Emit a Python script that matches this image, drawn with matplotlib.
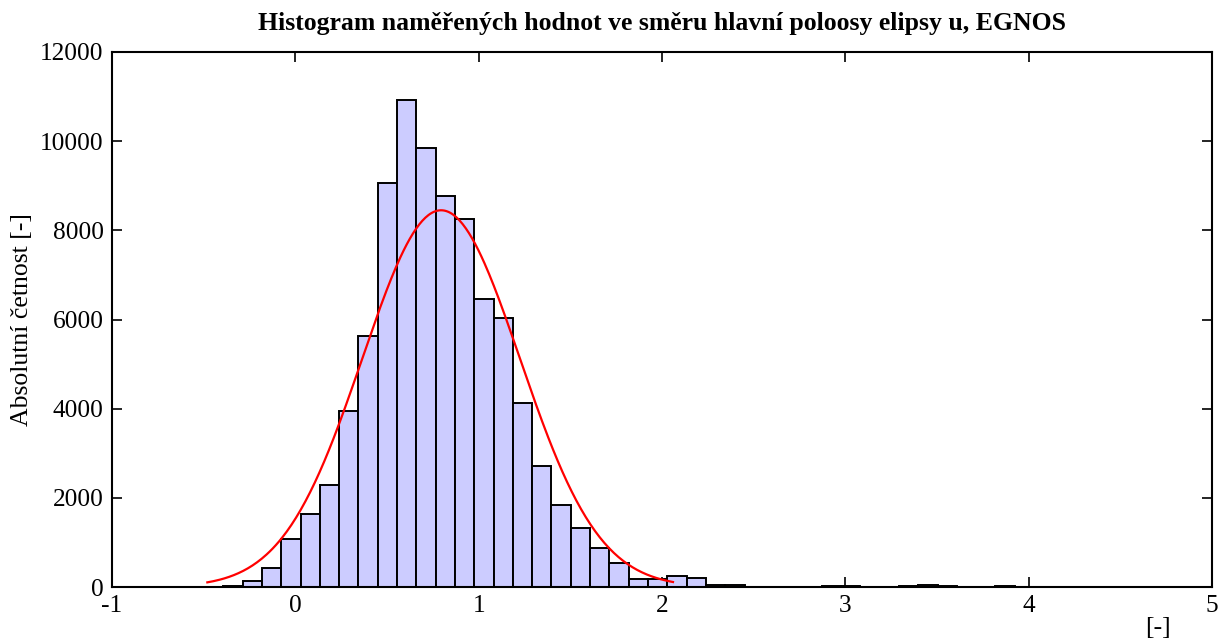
import numpy as np
import matplotlib
matplotlib.use("Agg")
import matplotlib.pyplot as plt

# ---- data ----
bin_start = -0.393
bin_width = 0.1053
counts = [20, 130, 420, 1080, 1630, 2280, 3940, 5620, 9070, 10920,
          9840, 8760, 8250, 6460, 6040, 4130, 2720, 1850, 1330, 880,
          530, 190, 180, 240, 205, 45, 35, 0, 0, 0,
          0, 15, 15, 8, 10, 25, 50, 25, 5, 0,
          25, 0]
# fitted normal curve (histfit) parameters
fit_mu = 0.795
fit_sigma = 0.43
fit_peak = 8450
fit_range = (-0.48, 2.06)

title = "Histogram naměřených hodnot ve směru hlavní poloosy elipsy u, EGNOS"
ylabel = "Absolutní četnost [-]"
xlabel = "[-]"
xticks = [-1, 0, 1, 2, 3, 4, 5]
yticks = [0, 2000, 4000, 6000, 8000, 10000, 12000]

plt.rcParams['font.family'] = ['Liberation Serif', 'DejaVu Serif']
plt.rcParams['axes.unicode_minus'] = False

fig = plt.figure(figsize=(12.21, 6.43), dpi=100)
ax = fig.add_axes([112/1221, 1-587/643, 1100/1221, 535/643])

lefts = bin_start + bin_width*np.arange(len(counts))
ax.bar(lefts, counts, width=bin_width, align='edge', color='#ccccff',
       edgecolor='black', linewidth=1.4, zorder=2)

xs = np.linspace(fit_range[0], fit_range[1], 300)
ys = fit_peak*np.exp(-0.5*((xs-fit_mu)/fit_sigma)**2)
ax.plot(xs, ys, color='red', linewidth=1.6, zorder=3)

ax.set_xlim(-1, 5)
ax.set_ylim(0, 12000)
ax.set_xticks(xticks)
ax.set_yticks(yticks)
ax.tick_params(direction='in', length=7, width=1.2, labelsize=18.3,
               top=True, right=True, pad=6)
for s in ax.spines.values():
    s.set_linewidth(1.5)

ax.set_title(title, fontsize=18.5, fontweight='bold', pad=16)
ax.set_ylabel(ylabel, fontsize=18.5, labelpad=5)
ax.text(1158/1221, 1-628/643, xlabel, transform=fig.transFigure,
        ha='center', va='center', fontsize=18.5)

fig.savefig("out.png", dpi=100)
